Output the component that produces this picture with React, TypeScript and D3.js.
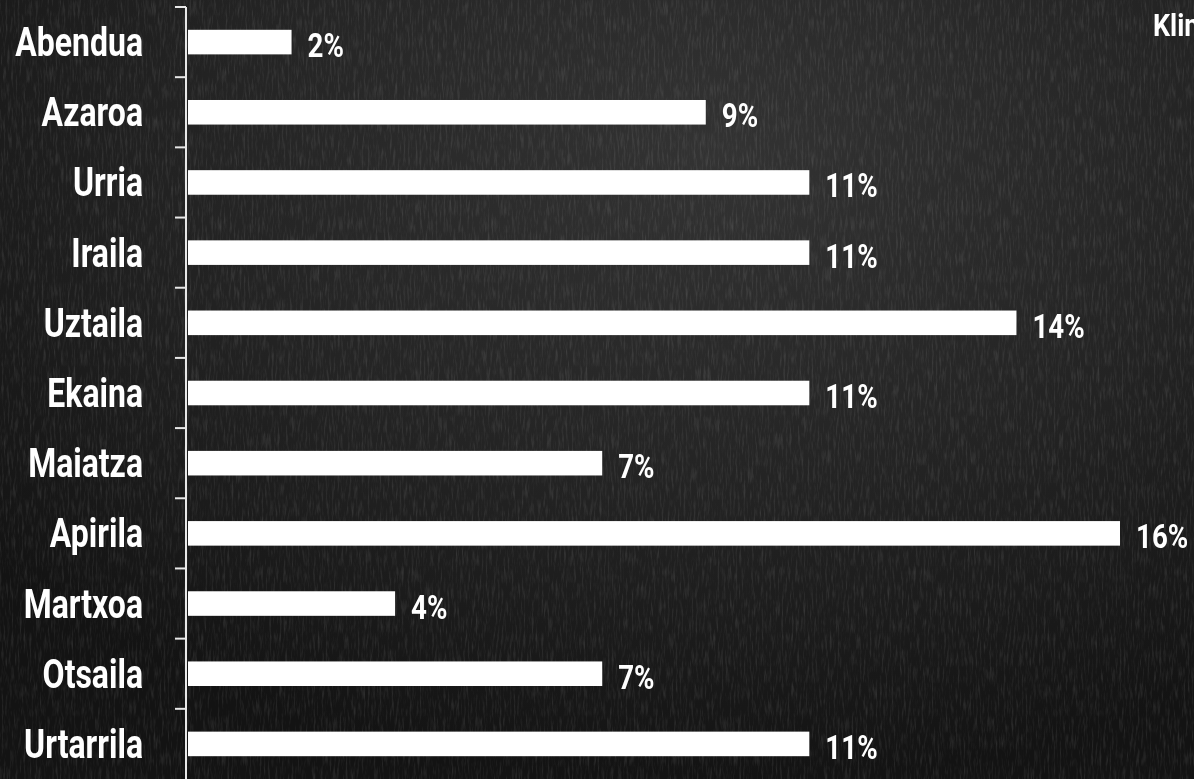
import React, { useRef, useEffect } from "react";
import * as d3 from "d3";

// months, top to bottom as drawn
const months = [
  "Abendua",
  "Azaroa",
  "Urria",
  "Iraila",
  "Uztaila",
  "Ekaina",
  "Maiatza",
  "Apirila",
  "Martxoa",
  "Otsaila",
  "Urtarrila",
];
// counts per month (bar lengths)
const counts = [1, 5, 6, 6, 8, 6, 4, 9, 2, 4, 6];
// labels printed next to bars
const pctLabels = ["2%", "9%", "11%", "11%", "14%", "11%", "7%", "16%", "4%", "7%", "11%"];
const legendLabel = "Klima";

const FONT = "Roboto, 'Noto Sans', sans-serif";

const App = () => {
  const svgRef = useRef<SVGSVGElement>(null);

  useEffect(() => {
    const width = 1194;
    const height = 779;
    const margin = { top: 7, left: 186 };

    const svg = d3.select(svgRef.current).attr("width", width).attr("height", height);
    svg.selectAll("*").remove();

    // chalkboard background
    const defs = svg.append("defs");
    const filter = defs.append("filter").attr("id", "chalk").attr("x", 0).attr("y", 0).attr("width", "100%").attr("height", "100%");
    filter
      .append("feTurbulence")
      .attr("type", "fractalNoise")
      .attr("baseFrequency", "0.5 0.06")
      .attr("numOctaves", 3)
      .attr("seed", 4);
    filter
      .append("feColorMatrix")
      .attr("type", "matrix")
      .attr("values", "0 0 0 0 1  0 0 0 0 1  0 0 0 0 1  1.2 0 0 0 -0.55");

    const grad = defs.append("radialGradient").attr("id", "glow").attr("cx", "60%").attr("cy", "20%").attr("r", "80%");
    grad.append("stop").attr("offset", "0%").attr("stop-color", "#333333");
    grad.append("stop").attr("offset", "55%").attr("stop-color", "#232323");
    grad.append("stop").attr("offset", "100%").attr("stop-color", "#131313");

    svg.append("rect").attr("width", width).attr("height", height).attr("fill", "url(#glow)");
    svg.append("rect").attr("width", width).attr("height", height).attr("filter", "url(#chalk)").attr("opacity", 0.2);

    // scales
    const yScale = d3
      .scaleBand()
      .domain(months)
      .range([margin.top, height])
      .paddingInner(0.65)
      .paddingOuter(0.325);

    const xScale = d3
      .scaleLinear()
      .domain([0, 9])
      .range([margin.left + 2, 1120]);

    const step = yScale.step();
    const boundaries = months.map((m) => yScale(m) - step * 0.325);

    // axis line + boundary ticks
    const axis = svg.append("g").attr("stroke", "#e8e8e8").attr("stroke-width", 2);
    axis
      .append("line")
      .attr("x1", margin.left)
      .attr("x2", margin.left)
      .attr("y1", margin.top)
      .attr("y2", height);
    axis
      .selectAll(".tick")
      .data(boundaries)
      .enter()
      .append("line")
      .attr("x1", margin.left - 11)
      .attr("x2", margin.left)
      .attr("y1", (d) => d)
      .attr("y2", (d) => d);

    // bars
    svg
      .selectAll(".bar")
      .data(counts)
      .enter()
      .append("rect")
      .attr("class", "bar")
      .attr("x", xScale(0))
      .attr("y", (d, i) => yScale(months[i]))
      .attr("width", (d) => xScale(d) - xScale(0))
      .attr("height", yScale.bandwidth())
      .attr("fill", "#ffffff");

    const mid = (m) => yScale(m) + yScale.bandwidth() / 2;

    // month labels (condensed by squeezing horizontally)
    svg
      .selectAll(".month")
      .data(months)
      .enter()
      .append("text")
      .attr("class", "month")
      .attr("transform", (d) => `translate(143,${mid(d) + 14}) scale(0.78,1)`)
      .attr("text-anchor", "end")
      .attr("font-family", FONT)
      .attr("font-weight", "bold")
      .attr("font-size", 41)
      .attr("fill", "#ffffff")
      .text((d) => d);

    // value labels
    svg
      .selectAll(".value")
      .data(counts)
      .enter()
      .append("text")
      .attr("class", "value")
      .attr("transform", (d, i) => `translate(${xScale(d) + 16},${mid(months[i]) + 15}) scale(0.84,1)`)
      .attr("font-family", FONT)
      .attr("font-weight", "bold")
      .attr("font-size", 33)
      .attr("fill", "#ffffff")
      .text((d, i) => pctLabels[i]);

    // legend text (cut off at the right edge, as in the source)
    svg
      .append("text")
      .attr("transform", "translate(1153,36) scale(0.84,1)")
      .attr("font-family", FONT)
      .attr("font-weight", "bold")
      .attr("font-size", 32)
      .attr("fill", "#ffffff")
      .text(legendLabel);
  }, []);

  return (
    <div style={{ position: "fixed", top: 0, left: 0, width: 1194, height: 779, overflow: "hidden" }}>
      <svg ref={svgRef} style={{ display: "block" }}></svg>
    </div>
  );
};

export default App;
